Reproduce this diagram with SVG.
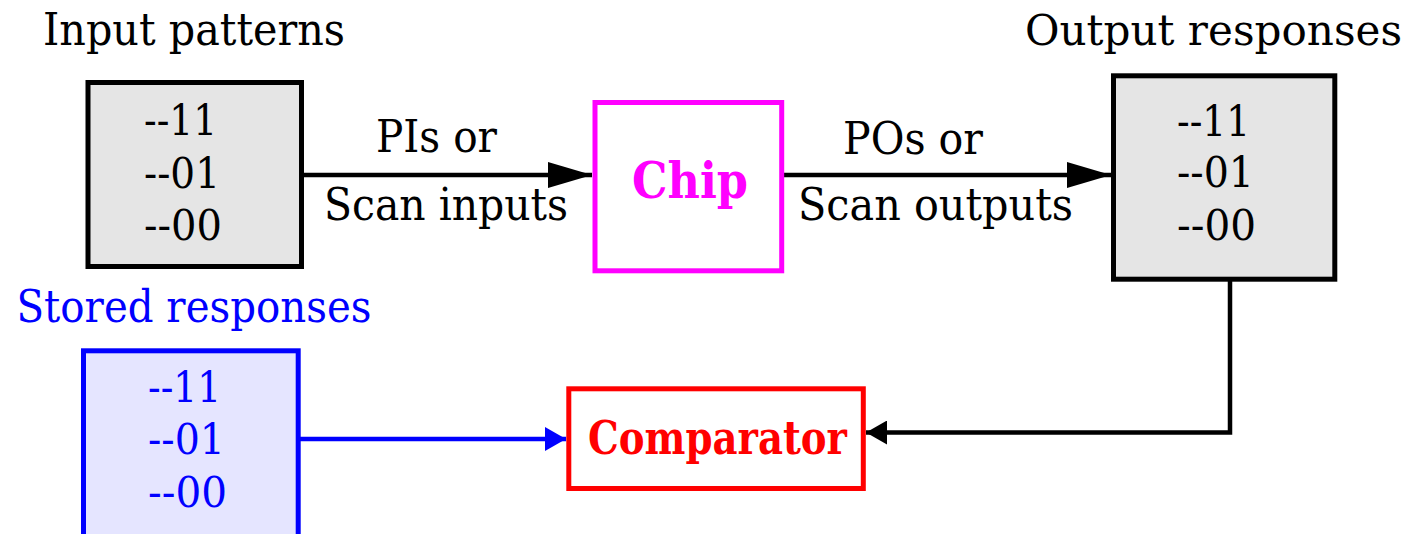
<svg xmlns="http://www.w3.org/2000/svg" width="1410" height="534" viewBox="0 0 1410 534">
<style>
text{font-family:"DejaVu Serif","Liberation Serif",serif;}
.lbl{font-size:44px;fill:#000;}
.pat{font-size:43px;fill:#000;}
.box{fill:#e5e5e5;stroke:#000;stroke-width:5;}
.conn{fill:none;stroke:#000;stroke-width:4.5;}
</style>
<defs>
<marker id="bigArrow" markerUnits="userSpaceOnUse" markerWidth="44" markerHeight="26" refX="44" refY="13" orient="auto">
<path d="M0,0 L44,13 L0,26 z" fill="#000"/>
</marker>
<marker id="smallArrow" markerUnits="userSpaceOnUse" markerWidth="21" markerHeight="24" refX="21" refY="12" orient="auto">
<path d="M0,0 L21,12 L0,24 z" fill="#000"/>
</marker>
<marker id="blueArrow" markerUnits="userSpaceOnUse" markerWidth="21" markerHeight="24" refX="21" refY="12" orient="auto">
<path d="M0,0 L21,12 L0,24 z" fill="#0000ff"/>
</marker>
</defs>
<g id="connectors">
<line class="conn" x1="304" y1="175" x2="592" y2="175" marker-end="url(#bigArrow)"/>
<line class="conn" x1="784" y1="175" x2="1111" y2="175" marker-end="url(#bigArrow)"/>
<polyline class="conn" points="1230,281 1230,432.5 866,432.5" marker-end="url(#smallArrow)"/>
<line class="conn" style="stroke:#0000ff" x1="300" y1="439" x2="566" y2="439" marker-end="url(#blueArrow)"/>
<text class="lbl" x="376" y="152" textLength="121" lengthAdjust="spacingAndGlyphs">PIs or</text>
<text class="lbl" x="324" y="220" textLength="244" lengthAdjust="spacingAndGlyphs">Scan inputs</text>
<text class="lbl" x="843" y="154" textLength="140" lengthAdjust="spacingAndGlyphs">POs or</text>
<text class="lbl" x="798" y="220" textLength="275" lengthAdjust="spacingAndGlyphs">Scan outputs</text>
</g>
<g id="input-patterns">
<text class="lbl" x="43" y="45" textLength="302" lengthAdjust="spacingAndGlyphs">Input patterns</text>
<rect class="box" x="88" y="82.5" width="213.5" height="184"/>
<text class="pat" x="144" y="135" textLength="73" lengthAdjust="spacingAndGlyphs">--11</text>
<text class="pat" x="144" y="188" textLength="76" lengthAdjust="spacingAndGlyphs">--01</text>
<text class="pat" x="144" y="240" textLength="78" lengthAdjust="spacingAndGlyphs">--00</text>
</g>
<g id="chip">
<rect x="595" y="102.5" width="186.7" height="168.3" fill="#fff" stroke="#ff00ff" stroke-width="5"/>
<text x="632" y="198" font-size="50" font-weight="bold" fill="#ff00ff" textLength="116" lengthAdjust="spacingAndGlyphs">Chip</text>
</g>
<g id="output-responses">
<text class="lbl" style="font-size:42px" x="1025" y="45" textLength="377" lengthAdjust="spacingAndGlyphs">Output responses</text>
<rect class="box" x="1113.5" y="75.8" width="221.3" height="203.4"/>
<text class="pat" x="1177" y="135.5" textLength="73" lengthAdjust="spacingAndGlyphs">--11</text>
<text class="pat" x="1177" y="187" textLength="77" lengthAdjust="spacingAndGlyphs">--01</text>
<text class="pat" x="1177" y="240" textLength="79" lengthAdjust="spacingAndGlyphs">--00</text>
</g>
<g id="stored-responses">
<text class="lbl" x="16.5" y="322" style="fill:#0000ff" textLength="355" lengthAdjust="spacingAndGlyphs">Stored responses</text>
<rect x="83.5" y="350.8" width="214.7" height="200" fill="#e5e5ff" stroke="#0000ff" stroke-width="5"/>
<text class="pat" style="fill:#0000ff" x="148" y="401.5" textLength="73" lengthAdjust="spacingAndGlyphs">--11</text>
<text class="pat" style="fill:#0000ff" x="148" y="453.5" textLength="77" lengthAdjust="spacingAndGlyphs">--01</text>
<text class="pat" style="fill:#0000ff" x="148" y="506.5" textLength="79" lengthAdjust="spacingAndGlyphs">--00</text>
</g>
<g id="comparator">
<rect x="568.8" y="388.8" width="294.5" height="99.7" fill="#fff" stroke="#ff0000" stroke-width="5"/>
<text x="588" y="454" font-size="46" font-weight="bold" fill="#ff0000" textLength="259" lengthAdjust="spacingAndGlyphs">Comparator</text>
</g>
</svg>
